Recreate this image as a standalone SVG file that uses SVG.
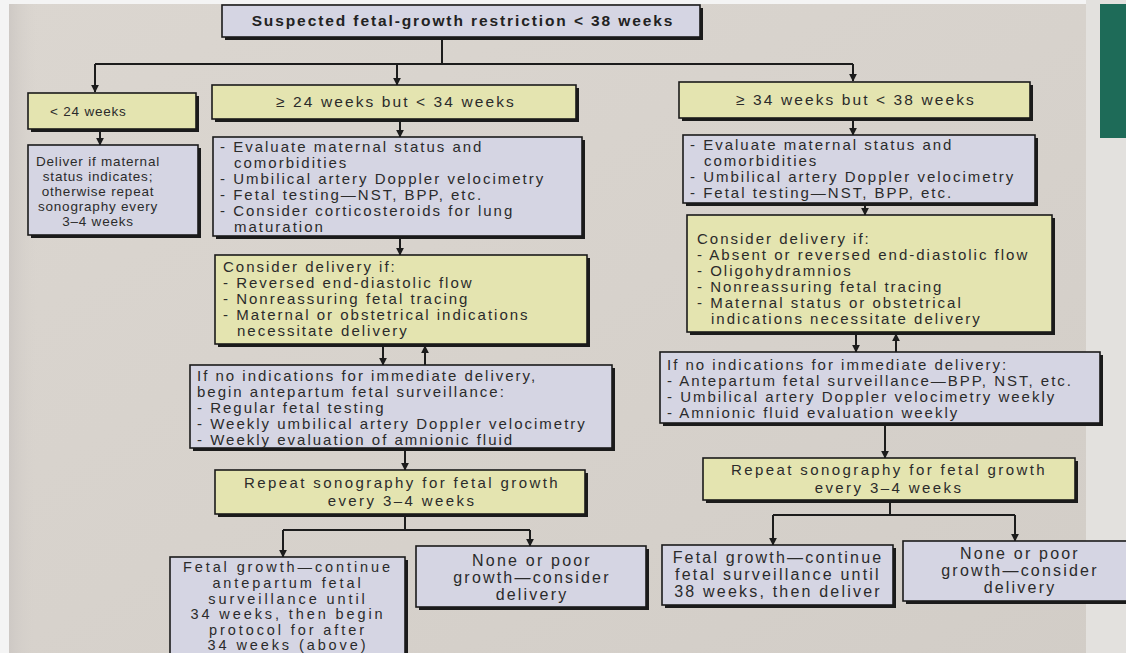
<svg xmlns="http://www.w3.org/2000/svg" width="1126" height="653" viewBox="0 0 1126 653">
<defs>
<linearGradient id="paper" x1="0" y1="0" x2="1" y2="1">
<stop offset="0" stop-color="#dbd6d0"/>
<stop offset="0.5" stop-color="#d7d2cc"/>
<stop offset="1" stop-color="#d2cdc7"/>
</linearGradient>
<linearGradient id="leftEdge" x1="0" y1="0" x2="1" y2="0">
<stop offset="0" stop-color="#cdc8c4"/>
<stop offset="1" stop-color="#d8d3cd" stop-opacity="0"/>
</linearGradient>
<marker id="ah" viewBox="0 0 10 10" refX="9" refY="5" markerWidth="8" markerHeight="8" markerUnits="userSpaceOnUse" orient="auto">
<path d="M0,0 L10,5 L0,10 z" fill="#1c1c1c"/>
</marker>
<style>
.sh{fill:#1b1b1b}
.lav{fill:#d5d5e3;stroke:#1b1b1b;stroke-width:1.6}
.yel{fill:#e4e4b0;stroke:#1b1b1b;stroke-width:1.6}
text{font-family:"Liberation Sans",Arial,Helvetica,sans-serif;fill:#2b2b2b}
.t{font-size:15px;letter-spacing:2px}
.r{letter-spacing:2.4px}
.c{text-anchor:middle}
.s{font-size:13.5px;letter-spacing:0.8px}
.b{font-size:16px;letter-spacing:2.2px}
.bl{font-size:14.5px;letter-spacing:2.9px}
.h{font-size:15.5px;letter-spacing:2.1px}
.ttl{font-size:15.5px;font-weight:bold;letter-spacing:1.9px;fill:#222}
.conn{stroke:#1c1c1c;stroke-width:2;fill:none}
.arr{marker-end:url(#ah)}
</style>
</defs>
<rect x="0" y="0" width="1126" height="653" fill="url(#paper)"/>
<rect x="8" y="0" width="30" height="653" fill="url(#leftEdge)"/>
<rect x="0" y="0" width="9" height="653" fill="#f4f4f4"/>
<rect x="0" y="0" width="1126" height="4" fill="#f4f4f4"/>
<rect x="1086" y="0" width="40" height="653" fill="#e3e1de"/>
<rect x="1100" y="4" width="26" height="134" fill="#1e6b58"/>

<g id="connectors">
<path class="conn" d="M442,38 V64 M95,64 H853"/>
<path class="conn arr" d="M95,64 V92"/>
<path class="conn arr" d="M397,64 V85"/>
<path class="conn arr" d="M853,64 V81"/>
<path class="conn arr" d="M100,130 V145"/>
<path class="conn arr" d="M400,121 V137"/>
<path class="conn arr" d="M400,237 V255"/>
<path class="conn arr" d="M383,346 V365"/>
<path class="conn arr" d="M425,365 V346"/>
<path class="conn arr" d="M405,449 V470"/>
<path class="conn" d="M405,516 V530 M283,530 H530"/>
<path class="conn arr" d="M283,530 V557"/>
<path class="conn arr" d="M530,530 V546"/>
<path class="conn arr" d="M853,121 V135"/>
<path class="conn arr" d="M865,204 V215"/>
<path class="conn arr" d="M856,334 V352"/>
<path class="conn arr" d="M896,352 V334"/>
<path class="conn arr" d="M885,425 V458"/>
<path class="conn" d="M890,502 V515 M773,515 H1015"/>
<path class="conn arr" d="M773,515 V545"/>
<path class="conn arr" d="M1015,515 V541"/>
</g>

<g id="n-title">
<rect class="sh" x="225" y="8" width="478" height="32"/>
<rect class="lav" x="222" y="5" width="478" height="32"/>
<text class="ttl c" x="463" y="26">Suspected fetal-growth restriction &lt; 38 weeks</text>
</g>

<g id="n-lt24">
<rect class="sh" x="31" y="96" width="168" height="36"/>
<rect class="yel" x="28" y="93" width="168" height="36"/>
<text class="s" x="50" y="116">&lt; 24 weeks</text>
</g>

<g id="n-24to34">
<rect class="sh" x="215" y="88" width="364" height="34"/>
<rect class="yel" x="212" y="85" width="364" height="34"/>
<text class="h c" x="396" y="107">≥ 24 weeks but  &lt; 34 weeks</text>
</g>

<g id="n-34to38">
<rect class="sh" x="682" y="85" width="351" height="36"/>
<rect class="yel" x="679" y="82" width="351" height="36"/>
<text class="h c" x="856" y="105">≥ 34 weeks but &lt; 38 weeks</text>
</g>

<g id="n-deliver">
<rect class="sh" x="31" y="148" width="170" height="90"/>
<rect class="lav" x="28" y="145" width="170" height="90"/>
<text class="s c" x="98" y="166">Deliver if maternal</text>
<text class="s c" x="98" y="181">status indicates;</text>
<text class="s c" x="98" y="196">otherwise repeat</text>
<text class="s c" x="98" y="211">sonography every</text>
<text class="s c" x="98" y="226">3–4 weeks</text>
</g>

<g id="n-eval-mid">
<rect class="sh" x="216" y="140" width="369" height="99"/>
<rect class="lav" x="213" y="137" width="369" height="99"/>
<text class="t" x="220" y="152">- Evaluate maternal status and</text>
<text class="t" x="234" y="168">comorbidities</text>
<text class="t" x="220" y="184">- Umbilical artery Doppler velocimetry</text>
<text class="t" x="220" y="200">- Fetal testing—NST, BPP, etc.</text>
<text class="t" x="220" y="216">- Consider corticosteroids for lung</text>
<text class="t" x="234" y="232">maturation</text>
</g>

<g id="n-consider-mid">
<rect class="sh" x="218" y="258" width="372" height="89"/>
<rect class="yel" x="215" y="255" width="372" height="89"/>
<text class="t" x="223" y="272">Consider delivery if:</text>
<text class="t" x="223" y="288">- Reversed end-diastolic flow</text>
<text class="t" x="223" y="304">- Nonreassuring fetal tracing</text>
<text class="t" x="223" y="320">- Maternal or obstetrical indications</text>
<text class="t" x="237" y="336">necessitate delivery</text>
</g>

<g id="n-noind-mid">
<rect class="sh" x="193" y="368" width="422" height="83"/>
<rect class="lav" x="190" y="365" width="422" height="83"/>
<text class="t" x="197" y="381">If no indications for immediate delivery,</text>
<text class="t" x="197" y="397">begin antepartum fetal surveillance:</text>
<text class="t" x="197" y="413">- Regular fetal testing</text>
<text class="t" x="197" y="429">- Weekly umbilical artery Doppler velocimetry</text>
<text class="t" x="197" y="445">- Weekly evaluation of amnionic fluid</text>
</g>

<g id="n-repeat-mid">
<rect class="sh" x="218" y="473" width="370" height="44"/>
<rect class="yel" x="215" y="470" width="370" height="44"/>
<text class="t r c" x="402" y="488">Repeat sonography for fetal growth</text>
<text class="t r c" x="402" y="506">every 3–4 weeks</text>
</g>

<g id="n-growth-mid">
<rect class="sh" x="173" y="560" width="235" height="100"/>
<rect class="lav" x="170" y="557" width="235" height="100"/>
<text class="bl c" x="288" y="572">Fetal growth—continue</text>
<text class="bl c" x="288" y="588">antepartum fetal</text>
<text class="bl c" x="288" y="604">surveillance until</text>
<text class="bl c" x="288" y="619">34 weeks, then begin</text>
<text class="bl c" x="288" y="635">protocol for after</text>
<text class="bl c" x="288" y="650">34 weeks (above)</text>
</g>

<g id="n-poor-mid">
<rect class="sh" x="419" y="549" width="230" height="61"/>
<rect class="lav" x="416" y="546" width="230" height="61"/>
<text class="b c" x="532" y="566">None or poor</text>
<text class="b c" x="532" y="583">growth—consider</text>
<text class="b c" x="532" y="600">delivery</text>
</g>

<g id="n-eval-right">
<rect class="sh" x="686" y="138" width="352" height="68"/>
<rect class="lav" x="683" y="135" width="352" height="68"/>
<text class="t" x="690" y="150">- Evaluate maternal status and</text>
<text class="t" x="704" y="166">comorbidities</text>
<text class="t" x="690" y="182">- Umbilical artery Doppler velocimetry</text>
<text class="t" x="690" y="198">- Fetal testing—NST, BPP, etc.</text>
</g>

<g id="n-consider-right">
<rect class="sh" x="690" y="218" width="365" height="117"/>
<rect class="yel" x="687" y="215" width="365" height="117"/>
<text class="t" x="697" y="244">Consider delivery if:</text>
<text class="t" x="697" y="260">- Absent or reversed end-diastolic flow</text>
<text class="t" x="697" y="276">- Oligohydramnios</text>
<text class="t" x="697" y="292">- Nonreassuring fetal tracing</text>
<text class="t" x="697" y="308">- Maternal status or obstetrical</text>
<text class="t" x="711" y="324">indications necessitate delivery</text>
</g>

<g id="n-noind-right">
<rect class="sh" x="663" y="355" width="440" height="71"/>
<rect class="lav" x="660" y="352" width="440" height="71"/>
<text class="t" x="667" y="370">If no indications for immediate delivery:</text>
<text class="t" x="667" y="386">- Antepartum fetal surveillance—BPP, NST, etc.</text>
<text class="t" x="667" y="402">- Umbilical artery Doppler velocimetry weekly</text>
<text class="t" x="667" y="418">- Amnionic fluid evaluation weekly</text>
</g>

<g id="n-repeat-right">
<rect class="sh" x="706" y="461" width="372" height="42"/>
<rect class="yel" x="703" y="458" width="372" height="42"/>
<text class="t r c" x="889" y="475">Repeat sonography for fetal growth</text>
<text class="t r c" x="889" y="493">every 3–4 weeks</text>
</g>

<g id="n-growth-right">
<rect class="sh" x="665" y="548" width="231" height="60"/>
<rect class="lav" x="662" y="545" width="231" height="60"/>
<text class="b c" x="778" y="563">Fetal growth—continue</text>
<text class="b c" x="778" y="580">fetal surveillance until</text>
<text class="b c" x="778" y="597">38 weeks, then deliver</text>
</g>

<g id="n-poor-right">
<rect class="sh" x="906" y="544" width="230" height="60"/>
<rect class="lav" x="903" y="541" width="230" height="60"/>
<text class="b c" x="1020" y="559">None or poor</text>
<text class="b c" x="1020" y="576">growth—consider</text>
<text class="b c" x="1020" y="593">delivery</text>
</g>
</svg>
